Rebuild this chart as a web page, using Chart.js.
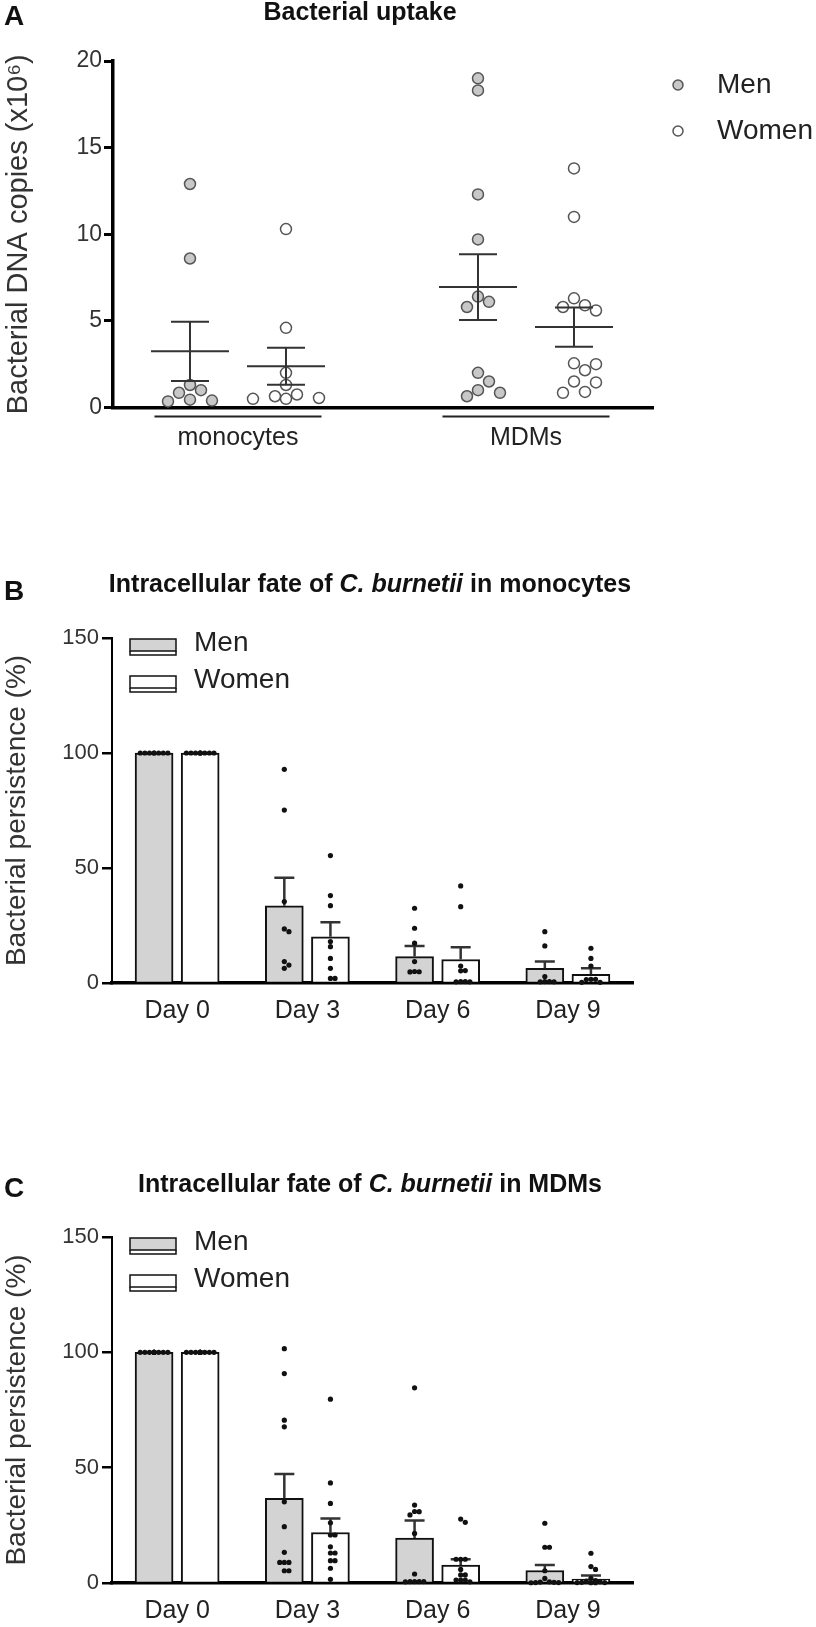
<!DOCTYPE html>
<html>
<head>
<meta charset="utf-8">
<script src="https://cdn.jsdelivr.net/npm/chart.js@4.4.1/dist/chart.umd.min.js"></script>
<style>
  body { margin: 0; background: #fff; }
  #page { position: relative; width: 816px; height: 1627px; }
  canvas { position: absolute; left: 0; }
</style>
</head>
<body>
<div id="page">
  <canvas id="chartA" width="816" height="470" style="top:0px;width:816px;height:470px"></canvas>
  <canvas id="chartB" width="816" height="470" style="top:562px;width:816px;height:470px"></canvas>
  <canvas id="chartC" width="816" height="467" style="top:1160px;width:816px;height:467px"></canvas>
</div>
<script>
// ---- Panel A: bacterial uptake (x10^6 DNA copies) ----
const groupsA = ["monocytes", "MDMs"];
const yTicksA = [0, 5, 10, 15, 20];
const menA = [
  [12.9, 8.6, 1.3, 1.0, 0.85, 0.45, 0.4, 0.35],
  [19.0, 18.3, 12.3, 9.7, 6.4, 6.1, 5.8, 2.0, 1.5, 1.0, 0.85, 0.65],
];
const womenA = [
  [10.3, 4.6, 2.0, 1.3, 0.75, 0.65, 0.55, 0.5, 0.5],
  [13.8, 11.0, 6.3, 5.9, 5.8, 5.6, 2.55, 2.5, 2.15, 1.5, 1.45, 0.9, 0.85],
];
const menMeanA = [3.24, 6.95];
const menSemA = [1.71, 1.9];
const womenMeanA = [2.38, 4.64];
const womenSemA = [1.07, 1.13];

// ---- Panels B and C: bacterial persistence (%) ----
const days = ["Day 0", "Day 3", "Day 6", "Day 9"];
const yTicksBC = [0, 50, 100, 150];

const menMeanB = [100, 33.6, 11.5, 6.4];
const menSemB = [0, 12.2, 4.6, 2.9];
const womenMeanB = [100, 20.1, 10.2, 3.8];
const womenSemB = [0, 6.3, 5.3, 2.6];
const menDotsB = [
  [100, 100, 100, 100, 100, 100, 100, 100],
  [92.9, 75.2, 35.4, 23.5, 22.3, 9.3, 7.8, 6.4],
  [32.5, 23.8, 17.3, 9.3, 5.0, 4.9, 4.8],
  [22.3, 16.1, 2.8, 0.6, 0.6, 0.5, 0.5],
];
const womenDotsB = [
  [100, 100, 100, 100, 100, 100, 100, 100, 100],
  [55.4, 38.0, 33.6, 18.0, 15.8, 10.7, 6.4, 2.0, 2.0],
  [42.2, 33.2, 7.4, 5.4, 5.3, 0.6, 0.6, 0.5, 0.5],
  [15.1, 10.7, 7.4, 1.6, 1.6, 1.5, 0.3, 0.3],
];

const menMeanC = [100, 36.7, 19.5, 5.4];
const menSemC = [0, 10.6, 7.6, 2.4];
const womenMeanC = [100, 21.9, 7.8, 1.7];
const womenSemC = [0, 6.1, 2.5, 1.6];
const menDotsC = [
  [100, 100, 100, 100, 100, 100, 100, 100, 100, 100, 100, 100],
  [101.6, 90.8, 70.6, 67.7, 35.2, 24.4, 13.3, 8.9, 8.9, 8.9, 5.3, 5.3],
  [84.6, 33.8, 31.0, 30.9, 29.5, 21.5, 3.9, 0.6, 0.6, 0.6, 0.6, 0.5],
  [25.9, 15.5, 15.5, 5.3, 2.0, 0.5, 0.4, 0.3, 0.2, 0.2, 0.1],
];
const womenDotsC = [
  [100, 100, 100, 100, 100, 100, 100, 100, 100, 100, 100, 100, 100],
  [79.7, 43.4, 34.5, 26.1, 20.8, 20.8, 15.7, 13.0, 13.0, 9.7, 9.7, 6.4, 1.6],
  [27.7, 26.3, 10.3, 10.3, 10.3, 5.9, 3.5, 3.5, 1.3, 1.3, 1.3, 0.5],
  [12.9, 7.1, 5.9, 2.0, 1.0, 0.8, 0.5, 0.3, 0.2, 0.2, 0.1, 0.1],
];

const FONT = "'Liberation Sans', Arial, sans-serif";
const MEN_FILL = "#d3d3d3";
const INK = "#222";

// title with italic parts + panel letter
const panelTitle = {
  id: "panelTitle",
  afterDraw(chart, args, opts) {
    const ctx = chart.ctx;
    ctx.save();
    ctx.fillStyle = "#111";
    ctx.textBaseline = "alphabetic";
    ctx.textAlign = "left";
    ctx.font = `bold 28px ${FONT}`;
    ctx.fillText(opts.letter, 4, opts.letterY);
    const fonts = opts.parts.map((p) => `${p.italic ? "italic " : ""}bold 25px ${FONT}`);
    let total = 0;
    opts.parts.forEach((p, i) => {
      ctx.font = fonts[i];
      total += ctx.measureText(p.text).width;
    });
    let x = opts.x - total / 2;
    opts.parts.forEach((p, i) => {
      ctx.font = fonts[i];
      ctx.fillText(p.text, x, opts.y);
      x += ctx.measureText(p.text).width;
    });
    ctx.restore();
  },
};

// mean line + SEM whiskers, group underlines and legend for panel A
const meanSem = {
  id: "meanSem",
  afterDatasetsDraw(chart) {
    const { ctx, chartArea } = chart;
    const x = chart.scales.x, y = chart.scales.y;
    ctx.save();
    ctx.strokeStyle = "#333";
    ctx.lineWidth = 2;
    chart.data.datasets.forEach((ds) => {
      ds.means.forEach((m, g) => {
        const cx = x.getPixelForValue(g + ds.shift);
        const ym = y.getPixelForValue(m);
        const yt = y.getPixelForValue(m + ds.sems[g]);
        const yb = y.getPixelForValue(m - ds.sems[g]);
        ctx.beginPath();
        ctx.moveTo(cx - 39, ym); ctx.lineTo(cx + 39, ym);
        ctx.moveTo(cx, yt); ctx.lineTo(cx, yb);
        ctx.moveTo(cx - 19, yt); ctx.lineTo(cx + 19, yt);
        ctx.moveTo(cx - 19, yb); ctx.lineTo(cx + 19, yb);
        ctx.stroke();
      });
    });
    // underline under each group label
    ctx.strokeStyle = INK;
    groupsA.forEach((g, i) => {
      ctx.beginPath();
      ctx.moveTo(x.getPixelForValue(i - 0.29), chartArea.bottom + 9);
      ctx.lineTo(x.getPixelForValue(i + 0.29), chartArea.bottom + 9);
      ctx.stroke();
    });
    // legend
    ctx.font = `28px ${FONT}`;
    ctx.textBaseline = "middle";
    chart.data.datasets.forEach((ds, i) => {
      const ly = chartArea.top + 24 + i * 46;
      ctx.beginPath();
      ctx.arc(chartArea.right + 25, ly, 5, 0, Math.PI * 2);
      ctx.fillStyle = ds.backgroundColor;
      ctx.fill();
      ctx.lineWidth = 1.5;
      ctx.strokeStyle = ds.borderColor;
      ctx.stroke();
      ctx.fillStyle = INK;
      ctx.fillText(ds.label, chartArea.right + 64, ly);
    });
    ctx.restore();
  },
};

// upward SEM on bars
const barErrors = {
  id: "barErrors",
  afterDatasetDraw(chart, args) {
    const ds = chart.data.datasets[args.index];
    if (!ds.sem) return;
    const y = chart.scales.y, ctx = chart.ctx;
    ctx.save();
    ctx.strokeStyle = "#333";
    ctx.lineWidth = 2.5;
    args.meta.data.forEach((bar, i) => {
      if (!ds.sem[i]) return;
      const top = y.getPixelForValue(ds.data[i].y + ds.sem[i]);
      ctx.beginPath();
      ctx.moveTo(bar.x, bar.y); ctx.lineTo(bar.x, top);
      ctx.moveTo(bar.x - 10, top); ctx.lineTo(bar.x + 10, top);
      ctx.stroke();
    });
    ctx.restore();
  },
};

// bar legend for B and C
const boxLegend = {
  id: "boxLegend",
  afterDraw(chart) {
    const { ctx, chartArea } = chart;
    const x0 = chartArea.left + 18;
    ctx.save();
    ctx.font = `28px ${FONT}`;
    ctx.textBaseline = "middle";
    chart.data.datasets.filter((d) => d.sem).forEach((ds, k) => {
      const top = chartArea.top + 1 + k * 37;
      ctx.fillStyle = ds.backgroundColor;
      ctx.fillRect(x0, top, 46, 12);
      ctx.strokeStyle = "#111";
      ctx.lineWidth = 1.5;
      ctx.strokeRect(x0, top, 46, 12);
      ctx.beginPath();
      ctx.moveTo(x0, top + 12); ctx.lineTo(x0, top + 16);
      ctx.lineTo(x0 + 46, top + 16); ctx.lineTo(x0 + 46, top + 12);
      ctx.stroke();
      ctx.fillStyle = INK;
      ctx.fillText(ds.label, x0 + 64, top + 4);
    });
    ctx.restore();
  },
};

// beeswarm offsets in pixels (kept within +-maxOff), turned back into axis values
function swarm(values, baseX, xs, ys, minDist, step, maxOff) {
  const cx = xs.getPixelForValue(baseX);
  const placed = [];
  const out = new Array(values.length);
  const cands = [0];
  for (let k = 1; k * step <= maxOff; k++) cands.push(k * step, -k * step);
  const order = values.map((v, i) => i).sort((a, b) => values[b] - values[a]);
  order.forEach((i) => {
    const py = ys.getPixelForValue(values[i]);
    let best = 0, bestD = -1;
    for (const off of cands) {
      const d = placed.reduce((m, p) => Math.min(m, Math.hypot(p.x - off, p.y - py)), Infinity);
      if (d >= minDist) { best = off; break; }
      if (d > bestD) { bestD = d; best = off; }
    }
    placed.push({ x: best, y: py });
    out[i] = xs.getValueForPixel(cx + best);
  });
  return out;
}

function spreadDots(chart, dsIndex, groups, baseOf, minDist, step, maxOff) {
  const xs = chart.scales.x, ys = chart.scales.y;
  const pts = [];
  groups.forEach((vals, g) => {
    const xv = swarm(vals, baseOf(g), xs, ys, minDist, step, maxOff);
    vals.forEach((v, k) => pts.push({ x: xv[k], y: v }));
  });
  chart.data.datasets[dsIndex].data = pts;
}

function tickFont(size) {
  return { family: FONT, size: size };
}

// ---------------- Panel A ----------------
const shiftA = 1 / 6;
function pointsA(groups, shift) {
  return groups.flatMap((vals, g) => vals.map((v) => ({ x: g + shift, y: v })));
}

const chartA = new Chart(document.getElementById("chartA"), {
  type: "scatter",
  data: {
    datasets: [
      {
        label: "Men", data: pointsA(menA, -shiftA), means: menMeanA, sems: menSemA, shift: -shiftA,
        backgroundColor: "#c8c8c8", borderColor: "#555", borderWidth: 1.5, pointRadius: 5.5, clip: false,
      },
      {
        label: "Women", data: pointsA(womenA, shiftA), means: womenMeanA, sems: womenSemA, shift: shiftA,
        backgroundColor: "#ffffff", borderColor: "#555", borderWidth: 1.5, pointRadius: 5.5, clip: false,
      },
    ],
  },
  options: {
    responsive: false,
    animation: false,
    events: [],
    layout: { padding: { top: 61, right: 163, left: 0, bottom: 0 } },
    plugins: {
      legend: { display: false },
      tooltip: { enabled: false },
      panelTitle: { letter: "A", letterY: 25, x: 360, y: 20, parts: [{ text: "Bacterial uptake" }] },
    },
    scales: {
      x: {
        type: "linear",
        offset: false,
        min: -0.434,
        max: 1.441,
        afterBuildTicks: (s) => { s.ticks = groupsA.map((g, i) => ({ value: i })); },
        afterFit: (s) => { s.height = 62.5; },
        grid: { display: false, drawTicks: false },
        border: { display: true, color: "#000", width: 3.5 },
        ticks: {
          padding: 16,
          color: INK,
          font: tickFont(25),
          callback: (v, i) => groupsA[i],
        },
      },
      y: {
        min: 0,
        max: 20,
        afterBuildTicks: (s) => { s.ticks = yTicksA.map((v) => ({ value: v })); },
        afterFit: (s) => { s.width = 113; },
        grid: { drawOnChartArea: false, drawTicks: true, tickLength: 9, color: "#000", lineWidth: 3 },
        border: { display: true, color: "#000", width: 3.5 },
        ticks: { padding: 2, color: "#333", font: tickFont(23) },
        title: {
          display: true,
          text: "Bacterial DNA copies (x10\u2076)",
          color: "#333",
          font: tickFont(29),
          padding: { top: 2, bottom: 2 },
        },
      },
    },
  },
  plugins: [panelTitle, meanSem],
});
spreadDots(chartA, 0, menA, (g) => g - shiftA, 12, 11, 36);
spreadDots(chartA, 1, womenA, (g) => g + shiftA, 12, 11, 36);
chartA.update("none");

// ---------------- Panels B and C ----------------
const BAR_SHIFT = 0.177;   // half the distance between the Men and Women bars, in category units

function persistenceChart(id, cfg) {
  const barPoints = (means, shift) => means.map((m, i) => ({ x: i + shift, y: m }));
  const chart = new Chart(document.getElementById(id), {
    type: "bar",
    data: {
      datasets: [
        {
          type: "scatter", label: "men dots", data: [], order: 0,
          pointRadius: 2.6, backgroundColor: "#111", borderWidth: 0, clip: false,
        },
        {
          type: "scatter", label: "women dots", data: [], order: 0,
          pointRadius: 2.6, backgroundColor: "#111", borderWidth: 0, clip: false,
        },
        {
          label: "Men", data: barPoints(cfg.menMean, -BAR_SHIFT), sem: cfg.menSem, order: 1,
          backgroundColor: MEN_FILL, borderColor: "#111", borderWidth: 2,
          grouped: false, barThickness: 38,
        },
        {
          label: "Women", data: barPoints(cfg.womenMean, BAR_SHIFT), sem: cfg.womenSem, order: 1,
          backgroundColor: "#ffffff", borderColor: "#111", borderWidth: 2,
          grouped: false, barThickness: 38,
        },
      ],
    },
    options: {
      responsive: false,
      animation: false,
      events: [],
      layout: { padding: { top: cfg.padTop, right: 183, left: 0, bottom: 0 } },
      plugins: {
        legend: { display: false },
        tooltip: { enabled: false },
        panelTitle: cfg.title,
      },
      scales: {
        x: {
          type: "linear",
          offset: false,
          min: -0.5,
          max: 3.5,
          afterBuildTicks: (s) => { s.ticks = days.map((d, i) => ({ value: i })); },
          afterFit: (s) => { s.height = cfg.xHeight; },
          grid: { display: false, drawTicks: false },
          border: { display: true, color: "#000", width: 3.5 },
          ticks: { padding: 13, color: INK, font: tickFont(25), callback: (v, i) => days[i] },
        },
        y: {
          min: 0,
          max: 150,
          afterBuildTicks: (s) => { s.ticks = yTicksBC.map((v) => ({ value: v })); },
          afterFit: (s) => { s.width = 112; },
          grid: { drawOnChartArea: false, drawTicks: true, tickLength: 10, color: "#000", lineWidth: 2.5 },
          border: { display: true, color: "#000", width: 2 },
          ticks: { padding: 3, color: "#333", font: tickFont(22) },
          title: {
            display: true,
            text: "Bacterial persistence (%)",
            color: "#333",
            font: tickFont(28),
            padding: { top: 0, bottom: 0 },
          },
        },
      },
    },
    plugins: [panelTitle, barErrors, boxLegend],
  });
  spreadDots(chart, 0, cfg.menDots, (g) => g - BAR_SHIFT, 4.6, 4.6, 16);
  spreadDots(chart, 1, cfg.womenDots, (g) => g + BAR_SHIFT, 4.6, 4.6, 16);
  chart.update("none");
  return chart;
}

persistenceChart("chartB", {
  menMean: menMeanB, menSem: menSemB, womenMean: womenMeanB, womenSem: womenSemB,
  menDots: menDotsB, womenDots: womenDotsB,
  padTop: 76, xHeight: 49,
  title: {
    letter: "B", letterY: 38, x: 370, y: 30,
    parts: [{ text: "Intracellular fate of " }, { text: "C. burnetii", italic: true }, { text: " in monocytes" }],
  },
});

persistenceChart("chartC", {
  menMean: menMeanC, menSem: menSemC, womenMean: womenMeanC, womenSem: womenSemC,
  menDots: menDotsC, womenDots: womenDotsC,
  padTop: 77, xHeight: 44,
  title: {
    letter: "C", letterY: 37, x: 370, y: 32,
    parts: [{ text: "Intracellular fate of " }, { text: "C. burnetii", italic: true }, { text: " in MDMs" }],
  },
});
</script>
</body>
</html>
